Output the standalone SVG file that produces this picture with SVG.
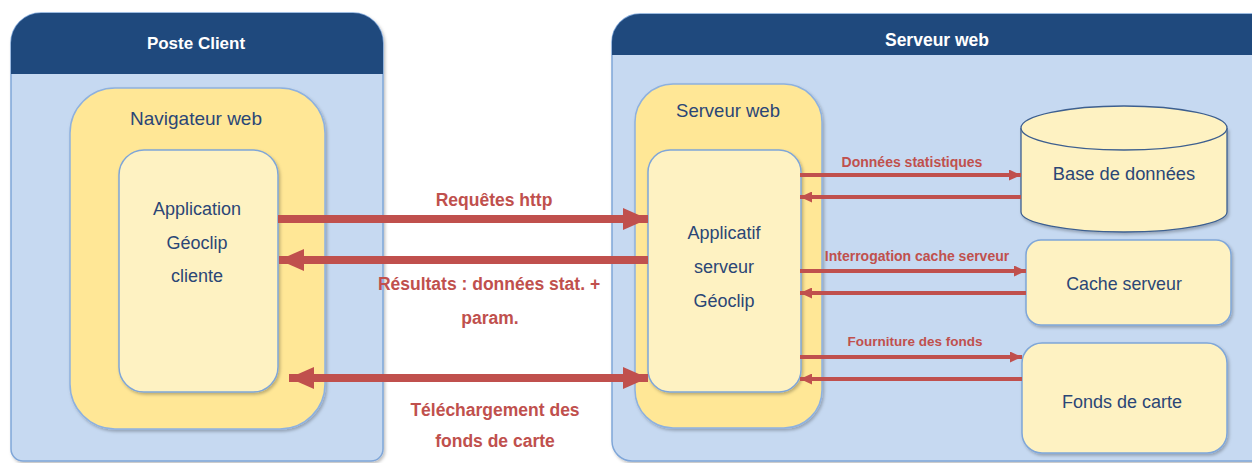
<svg xmlns="http://www.w3.org/2000/svg" width="1252" height="463" viewBox="0 0 1252 463">
<style>
.body{fill:#C6D9F1;stroke:#7FA6D8;stroke-width:1.5}
.hdr{fill:#1F497D}
.yel{fill:#FFE796;stroke:#8EB1DE;stroke-width:1.5}
.pale{fill:#FEF2C2;stroke:#7FA6D8;stroke-width:1.5}
.cyl{fill:#FEF2C2;stroke:#3D5F8F;stroke-width:1.3}
.ht{font-family:"Liberation Sans",Arial,sans-serif;font-weight:bold;fill:#FFFFFF;text-anchor:middle}
.nt{font-family:"Liberation Sans",Arial,sans-serif;fill:#2B4676;text-anchor:middle}
.lt{font-family:"Liberation Sans",Arial,sans-serif;font-weight:bold;fill:#C0504D;text-anchor:middle}
.thick{stroke:#C0504D;stroke-width:8;fill:none}
.thin{stroke:#C0504D;stroke-width:4;fill:none}
</style>
<defs>
<filter id="sh" x="-10%" y="-10%" width="120%" height="120%">
<feDropShadow dx="1.5" dy="2" stdDeviation="1.5" flood-color="#000" flood-opacity="0.25"/>
</filter>
<marker id="bigHead" viewBox="0 0 25 22" refX="25" refY="11" markerWidth="25" markerHeight="22" markerUnits="userSpaceOnUse" orient="auto-start-reverse">
<path d="M0,0 L25,11 L0,22 Z" fill="#C0504D"/>
</marker>
<marker id="smallHead" viewBox="0 0 12 11" refX="12" refY="5.5" markerWidth="12" markerHeight="11" markerUnits="userSpaceOnUse" orient="auto-start-reverse">
<path d="M0,0 L12,5.5 L0,11 Z" fill="#C0504D"/>
</marker>
</defs>
<rect width="1252" height="463" fill="#FFFFFF"/>

<g id="poste-client">
<path class="body" filter="url(#sh)" d="M11,43 A30,30 0 0 1 41,13 L353,13 A30,30 0 0 1 383,43 L383,449 A12,12 0 0 1 371,461 L23,461 A12,12 0 0 1 11,449 Z"/>
<path class="hdr" d="M11,43 A30,30 0 0 1 41,13 L353,13 A30,30 0 0 1 383,43 L383,74 L11,74 Z"/>
<text class="ht" x="196" y="49" font-size="17">Poste Client</text>
</g>

<g id="serveur-web-outer">
<path class="body" filter="url(#sh)" d="M612,42 A28,28 0 0 1 640,14 L1262,14 L1262,461 L632,461 A20,20 0 0 1 612,441 Z"/>
<path class="hdr" d="M612,42 A28,28 0 0 1 640,14 L1262,14 L1262,55 L612,55 Z"/>
<text class="ht" x="937" y="46" font-size="17.5">Serveur web</text>
</g>

<g id="navigateur-web">
<rect class="yel" filter="url(#sh)" x="70" y="88" width="255" height="341" rx="45"/>
<text class="nt" x="196" y="125" font-size="19">Navigateur web</text>
</g>

<g id="application-geoclip">
<rect class="pale" filter="url(#sh)" x="119" y="150" width="159" height="242" rx="25"/>
<text class="nt" x="197" y="215" font-size="18">Application</text>
<text class="nt" x="197" y="249" font-size="18">Géoclip</text>
<text class="nt" x="197" y="282" font-size="18">cliente</text>
</g>

<g id="serveur-web">
<rect class="yel" filter="url(#sh)" x="635" y="84" width="187" height="344" rx="38"/>
<text class="nt" x="728" y="117" font-size="18.5">Serveur web</text>
</g>

<g id="applicatif-serveur">
<rect class="pale" filter="url(#sh)" x="648" y="150" width="153" height="242" rx="22"/>
<text class="nt" x="724" y="239" font-size="18">Applicatif</text>
<text class="nt" x="724" y="273" font-size="18">serveur</text>
<text class="nt" x="724" y="307" font-size="18">Géoclip</text>
</g>

<g id="base-de-donnees">
<path class="cyl" filter="url(#sh)" d="M1021,128 L1021,212 A103,20 0 0 0 1227,212 L1227,128"/>
<ellipse class="cyl" cx="1124" cy="128" rx="103" ry="22"/>
<text class="nt" x="1124" y="180" font-size="18.3">Base de données</text>
</g>

<g id="cache-serveur">
<rect class="pale" filter="url(#sh)" x="1026" y="240" width="205" height="85" rx="15"/>
<text class="nt" x="1124" y="290" font-size="17.8">Cache serveur</text>
</g>

<g id="fonds-de-carte">
<rect class="pale" filter="url(#sh)" x="1022" y="343" width="205" height="110" rx="20"/>
<text class="nt" x="1122" y="408" font-size="18">Fonds de carte</text>
</g>

<g id="connectors">
<line class="thick" x1="278" y1="219" x2="648" y2="219" marker-end="url(#bigHead)"/>
<line class="thick" x1="648" y1="260" x2="279" y2="260" marker-end="url(#bigHead)"/>
<line class="thick" x1="289" y1="378" x2="648" y2="378" marker-start="url(#bigHead)" marker-end="url(#bigHead)"/>
<line class="thin" x1="800" y1="175" x2="1021" y2="175" marker-end="url(#smallHead)"/>
<line class="thin" x1="1021" y1="197" x2="800" y2="197" marker-end="url(#smallHead)"/>
<line class="thin" x1="800" y1="271" x2="1026" y2="271" marker-end="url(#smallHead)"/>
<line class="thin" x1="1026" y1="293" x2="800" y2="293" marker-end="url(#smallHead)"/>
<line class="thin" x1="800" y1="357" x2="1022" y2="357" marker-end="url(#smallHead)"/>
<line class="thin" x1="1022" y1="379" x2="800" y2="379" marker-end="url(#smallHead)"/>
<text class="lt" x="494" y="206" font-size="17.5">Requêtes http</text>
<text class="lt" x="489" y="290" font-size="17.5">Résultats : données stat. +</text>
<text class="lt" x="490" y="324" font-size="17.5">param.</text>
<text class="lt" x="495" y="416" font-size="17.5">Téléchargement des</text>
<text class="lt" x="495" y="447" font-size="17.5">fonds de carte</text>
<text class="lt" x="912" y="167" font-size="14">Données statistiques</text>
<text class="lt" x="917" y="261" font-size="14">Interrogation cache serveur</text>
<text class="lt" x="915" y="346" font-size="13.5">Fourniture des fonds</text>
</g>
</svg>
